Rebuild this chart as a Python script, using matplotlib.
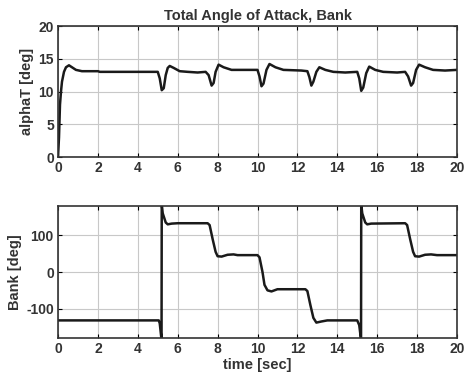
import matplotlib
matplotlib.use('Agg')
import matplotlib.pyplot as plt

# alphaT trace
t_alpha = [0, 0.05, 0.1, 0.15, 0.2, 0.3, 0.4, 0.55, 0.7, 0.9, 1.2, 2.0, 2.1, 5.0,
           5.1, 5.2, 5.3, 5.4, 5.5, 5.6, 5.8, 6.1, 6.5, 7.0, 7.4,
           7.55, 7.7, 7.8, 7.9, 8.05, 8.3, 8.7, 10.0,
           10.1, 10.2, 10.3, 10.45, 10.6, 10.9, 11.3, 12.2, 12.5,
           12.6, 12.7, 12.8, 12.95, 13.1, 13.4, 13.8, 14.4, 15.0,
           15.1, 15.2, 15.3, 15.45, 15.6, 15.9, 16.3, 17.0, 17.4,
           17.55, 17.7, 17.8, 17.95, 18.1, 18.4, 18.8, 19.4, 20.0]
alpha = [0, 3, 8, 10, 11.5, 13, 13.7, 14, 13.7, 13.3, 13.1, 13.1, 13.0, 13.0,
         12.0, 10.2, 10.5, 12.5, 13.6, 13.9, 13.6, 13.1, 13.0, 12.9, 13.0,
         12.5, 10.9, 11.3, 13.0, 14.1, 13.7, 13.3, 13.3,
         12.3, 10.8, 11.2, 13.3, 14.2, 13.7, 13.3, 13.2, 13.1,
         12.2, 10.9, 11.5, 13.0, 13.7, 13.3, 13.0, 12.9, 13.0,
         12.0, 10.1, 10.6, 12.8, 13.8, 13.3, 13.0, 12.9, 13.0,
         12.3, 10.9, 11.3, 13.3, 14.1, 13.7, 13.3, 13.2, 13.3]

# bank angle trace (wraps at +-180)
t_bank = [0, 5.05, 5.1, 5.19, 5.2, 5.25, 5.4, 5.5, 5.7, 6.0, 7.5,
          7.6, 7.75, 7.9, 8.0, 8.2, 8.5, 8.8, 9.0, 10.0,
          10.1, 10.25, 10.35, 10.5, 10.7, 11.0, 12.4,
          12.5, 12.65, 12.8, 12.95, 13.2, 13.5, 15.0,
          15.1, 15.19, 15.2, 15.25, 15.4, 15.5, 15.7, 17.4,
          17.5, 17.65, 17.8, 17.9, 18.1, 18.4, 18.7, 19.0, 20.0]
bank = [-132, -132, -140, -185, 185, 160, 135, 130, 132, 133, 133,
        128, 90, 55, 43, 42, 47, 48, 46, 46,
        40, 0, -35, -50, -53, -47, -47,
        -52, -90, -125, -138, -135, -132, -132,
        -145, -185, 185, 160, 135, 130, 132, 133,
        128, 90, 55, 43, 42, 47, 48, 46, 46]

plt.rcParams['font.family'] = 'Liberation Sans'
plt.rcParams['font.weight'] = 'bold'
plt.rcParams['font.size'] = 10
plt.rcParams['axes.unicode_minus'] = False

fig = plt.figure(figsize=(4.68, 3.76), dpi=100)
ax1 = fig.add_axes([58 / 468, 1 - 157 / 376, 399 / 468, 131 / 376])
ax2 = fig.add_axes([58 / 468, 1 - 338 / 376, 399 / 468, 132 / 376])

ax1.plot(t_alpha, alpha, c='#1a1a1a', lw=1.8)
ax1.set_xlim(0, 20)
ax1.set_ylim(0, 20)
ax1.set_xticks(range(0, 21, 2))
ax1.set_yticks([0, 5, 10, 15, 20])
ax1.set_ylabel('alphaT [deg]', fontsize=10.5, fontweight='bold', color='#333333', labelpad=3)
ax1.set_title('Total Angle of Attack, Bank', fontsize=10.5, fontweight='bold', color='#333333', pad=4)

ax2.plot(t_bank, bank, c='#1a1a1a', lw=1.8)
ax2.set_xlim(0, 20)
ax2.set_ylim(-180, 180)
ax2.set_xticks(range(0, 21, 2))
ax2.set_yticks([-100, 0, 100])
ax2.set_ylabel('Bank [deg]', fontsize=10.5, fontweight='bold', color='#333333', labelpad=3)
ax2.set_xlabel('time [sec]', fontsize=10.5, fontweight='bold', color='#333333', labelpad=1)

for ax in (ax1, ax2):
    ax.grid(True, color='#c8c8c8', lw=0.8)
    ax.tick_params(direction='in', top=True, right=True, length=3, pad=3,
                   labelcolor='#333333')
    for s in ax.spines.values():
        s.set_linewidth(1.2)
        s.set_color('#333333')

fig.savefig('out.png', dpi=100)
